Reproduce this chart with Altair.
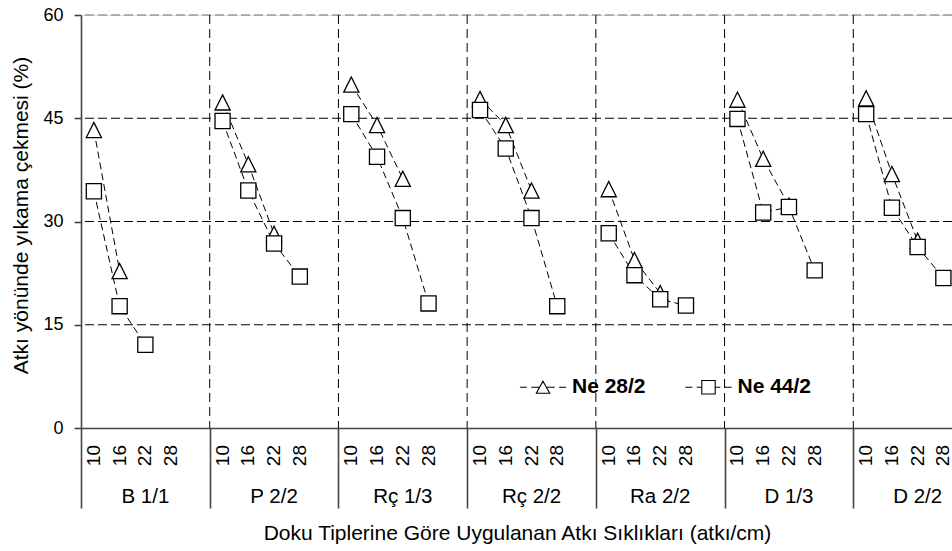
import altair as alt
import pandas as pd

groups = ["B 1/1", "P 2/2", "Rç 1/3", "Rç 2/2", "Ra 2/2", "D 1/3", "D 2/2"]
densities = ["10", "16", "22", "28"]
series_names = ["Ne 28/2", "Ne 44/2"]

ne28 = [
    [43.3, 22.8, None, None],
    [47.3, 38.3, 28.2, None],
    [49.9, 44.0, 36.2, None],
    [47.8, 44.0, 34.5, None],
    [34.7, 24.4, 19.6, None],
    [47.7, 39.1, 32.3, None],
    [47.9, 36.9, 27.2, None],
]
ne44 = [
    [34.4, 17.7, 12.1, None],
    [44.6, 34.5, 26.8, 22.0],
    [45.6, 39.4, 30.5, 18.1],
    [46.2, 40.6, 30.5, 17.7],
    [28.3, 22.2, 18.7, 17.8],
    [44.9, 31.3, 32.1, 22.9],
    [45.6, 32.0, 26.3, 21.8],
]
y_ticks = [0, 15, 30, 45, 60]

SLOTS = 5
n_slots = SLOTS * len(groups)

rows = []
for s_name, vals in zip(series_names, [ne28, ne44]):
    for gi, g in enumerate(groups):
        for di, d in enumerate(densities):
            v = vals[gi][di]
            if v is not None:
                rows.append({"series": s_name, "group": g, "density": d,
                             "pos": gi * SLOTS + di + 0.5, "value": v})
df = pd.DataFrame(rows)

sub_df = pd.DataFrame([{"pos": gi * SLOTS + di + 0.5, "label": d}
                       for gi in range(len(groups)) for di, d in enumerate(densities)])
grp_df = pd.DataFrame([{"pos": gi * SLOTS + (SLOTS / 2), "label": g} for gi, g in enumerate(groups)])
bounds_df = pd.DataFrame({"pos": [gi * SLOTS for gi in range(1, len(groups) + 1)]})
hgrid_df = pd.DataFrame({"value": [15, 30, 45]})
htop_df = pd.DataFrame({"value": [60]})

FONT = "Liberation Sans"
AXC = "#444444"
W, H = 871, 413

xscale = alt.Scale(domain=[0, n_slots], range=[0, 901], nice=False, zero=False)
yscale = alt.Scale(domain=[0, 60], nice=False, zero=True)

x_axis = alt.Axis(values=[gi * SLOTS for gi in range(len(groups) + 1)], labels=False,
                  tickSize=80, tickColor=AXC, tickWidth=1.6, domainColor=AXC, domainWidth=1.6,
                  grid=False, title="Doku Tiplerine Göre Uygulanan Atkı Sıklıkları (atkı/cm)",
                  titleFont=FONT, titleFontSize=21, titleFontWeight="normal", titleColor="black",
                  titleX=436, titleY=111, titleBaseline="alphabetic", titleAlign="center")
y_axis = alt.Axis(values=y_ticks, grid=False, tickSize=7, tickColor=AXC, tickWidth=1.6,
                  domainColor=AXC, domainWidth=1.6, labelPadding=11, labelFont=FONT,
                  labelFontSize=18, labelColor="black",
                  title="Atkı yönünde yıkama çekmesi (%)", titleFont=FONT, titleFontSize=21,
                  titleFontWeight="normal", titleColor="black", titleX=-54, titleY=200,
                  titleAngle=270, titleBaseline="alphabetic", titleAlign="center")

hgrid = alt.Chart(hgrid_df).mark_rule(color="black", strokeDash=[9, 4], strokeWidth=1).encode(
    y=alt.Y("value:Q", scale=yscale, axis=y_axis))
htop = alt.Chart(htop_df).mark_rule(color="#999999", strokeDash=[9, 4], strokeWidth=1.5).encode(
    y=alt.Y("value:Q", scale=yscale))
vgrid = alt.Chart(bounds_df).mark_rule(color="black", strokeDash=[9, 5], strokeWidth=1).encode(
    x=alt.X("pos:Q", scale=xscale, axis=x_axis), y=alt.value(0), y2=alt.value(H))

lines = alt.Chart(df).mark_line(color="black", strokeDash=[7, 4], strokeWidth=1).encode(
    x=alt.X("pos:Q", scale=xscale), y=alt.Y("value:Q", scale=yscale),
    detail=["series:N", "group:N"], order="pos:Q")

tri_path = "M0,-1L1,1L-1,1Z"
sq_path = "M-1,-1L1,-1L1,1L-1,1Z"
points = alt.Chart(df).mark_point(filled=True, fill="white", stroke="black", strokeWidth=1.3,
                                  size=230, opacity=1).encode(
    x=alt.X("pos:Q", scale=xscale), y=alt.Y("value:Q", scale=yscale),
    shape=alt.Shape("series:N", scale=alt.Scale(domain=series_names, range=[tri_path, sq_path]),
                    legend=None))

tri_leg = ("M-3.45,0L-2.4,0M-1.75,0L-0.5,0M0.5,0L1.75,0M2.4,0L3.45,0"
           "M0,-0.9L1,0.9L-1,0.9Z")
sq_leg = ("M-3.45,0L-2.4,0M-1.75,0L-1,0M1,0L1.75,0M2.4,0L3.45,0"
          "M-1,-1L1,-1L1,1L-1,1Z")
legend_layer = alt.Chart(df).transform_filter("datum.value < -1000").mark_point(
    filled=False, color="black", size=180, strokeWidth=1.1).encode(
    x=alt.X("pos:Q", scale=xscale), y=alt.Y("value:Q", scale=yscale),
    shape=alt.Shape("series:N", scale=alt.Scale(domain=series_names, range=[tri_leg, sq_leg]),
                    legend=alt.Legend(orient="none", legendX=451.5, legendY=361.5,
                                      direction="horizontal", title=None, padding=0,
                                      labelFont=FONT, labelFontSize=21, labelFontWeight="bold",
                                      labelColor="black", labelOffset=18.5, columnPadding=36.5,
                                      symbolSize=180, symbolStrokeWidth=1.1,
                                      symbolStrokeColor="black", symbolFillColor="white",
                                      symbolOpacity=1)))

sub_labels = alt.Chart(sub_df).mark_text(font=FONT, fontSize=19, angle=270, align="right",
                                         baseline="middle", color="black").encode(
    x=alt.X("pos:Q", scale=xscale), y=alt.value(H + 17), text="label:N")
grp_labels = alt.Chart(grp_df).mark_text(font=FONT, fontSize=20.5, align="center",
                                         baseline="alphabetic", color="black").encode(
    x=alt.X("pos:Q", scale=xscale), y=alt.value(H + 75), text="label:N")

chart = alt.layer(hgrid, htop, vgrid, lines, points, legend_layer, sub_labels, grp_labels).resolve_scale(
    shape="independent").properties(
    width=W, height=H,
    autosize=alt.AutoSizeParams(type="none"),
    padding={"left": 81, "top": 15, "right": 0, "bottom": 123},
).configure_view(stroke=None).configure(background="white")

chart.save("out.html", embed_options={"renderer": "svg", "actions": False})
